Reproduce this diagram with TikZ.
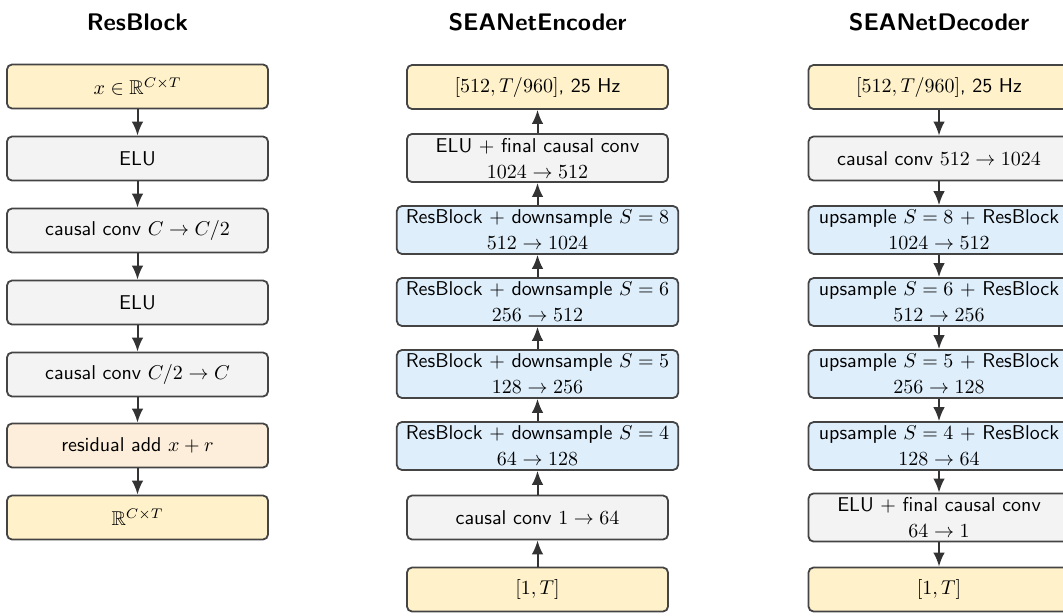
\documentclass[tikz,border=0pt]{standalone}
\usepackage{amsmath,amssymb}
\usetikzlibrary{arrows.meta}

\definecolor{ioyellow}{HTML}{FFF2CA}
\definecolor{opgray}{HTML}{F3F3F3}
\definecolor{rbblue}{HTML}{DEEEFB}
\definecolor{addorange}{HTML}{FDEEDB}
\definecolor{edge}{HTML}{444444}
\definecolor{arrowc}{HTML}{333333}

\begin{document}
\begin{tikzpicture}[
  x=0.5pt, y=-0.5pt,
  font=\sffamily\fontsize{10}{13}\selectfont,
  blk/.style={draw=edge, line width=0.9pt, rounded corners=2.5pt,
    minimum width=130.5pt, minimum height=22pt,
    inner xsep=4.5pt, inner ysep=2pt, align=center},
  io/.style={blk, fill=ioyellow},
  op/.style={blk, fill=opgray},
  rb/.style={blk, fill=rbblue},
  addop/.style={blk, fill=addorange},
  flow/.style={draw=arrowc, line width=1pt, -{Latex[length=7pt,width=5.8pt]}},
  ttl/.style={font=\sffamily\bfseries\fontsize{12}{14}\selectfont}
]
\useasboundingbox (0,0) rectangle (1063,615);
\clip (0,0) rectangle (1063,615);

% column titles
\node[ttl] (t1) at (137.5,22) {ResBlock};
\node[ttl] (t2) at (537.5,22) {SEANetEncoder};
\node[ttl] (t3) at (939,22) {SEANetDecoder};

% ResBlock
\node[io]    (r1) at (137.5,86.5)  {$x\in\mathbb{R}^{C\times T}$};
\node[op]    (r2) at (137.5,158.5) {ELU};
\node[op]    (r3) at (137.5,230.5) {causal conv $C\to C/2$};
\node[op]    (r4) at (137.5,302.5) {ELU};
\node[op]    (r5) at (137.5,374.5) {causal conv $C/2\to C$};
\node[addop] (r6) at (137.5,445.5) {residual add $x+r$};
\node[io]    (r7) at (137.5,517.5) {$\mathbb{R}^{C\times T}$};
\foreach \a/\b in {r1/r2,r2/r3,r3/r4,r4/r5,r5/r6,r6/r7}
  \draw[flow] (\a.south) -- (\b.north);

% SEANet encoder (bottom to top)
\node[io] (e1) at (537.5,87)    {$[512,T/960]$, 25 Hz};
\node[op] (e2) at (537.5,158)   {ELU $+$ final causal conv\\$1024\to512$};
\node[rb] (e3) at (537.5,230)   {ResBlock $+$ downsample $S=8$\\$512\to1024$};
\node[rb] (e4) at (537.5,302)   {ResBlock $+$ downsample $S=6$\\$256\to512$};
\node[rb] (e5) at (537.5,374)   {ResBlock $+$ downsample $S=5$\\$128\to256$};
\node[rb] (e6) at (537.5,446)   {ResBlock $+$ downsample $S=4$\\$64\to128$};
\node[op] (e7) at (537.5,517.5) {causal conv $1\to64$};
\node[io] (e8) at (537.5,589.5) {$[1,T]$};
\foreach \a/\b in {e8/e7,e7/e6,e6/e5,e5/e4,e4/e3,e3/e2,e2/e1}
  \draw[flow] (\a.north) -- (\b.south);

% SEANet decoder (top to bottom)
\node[io] (d1) at (939,87)    {$[512,T/960]$, 25 Hz};
\node[op] (d2) at (939,158.5) {causal conv $512\to1024$};
\node[rb] (d3) at (939,230)   {upsample $S=8$ $+$ ResBlock\\$1024\to512$};
\node[rb] (d4) at (939,302)   {upsample $S=6$ $+$ ResBlock\\$512\to256$};
\node[rb] (d5) at (939,374)   {upsample $S=5$ $+$ ResBlock\\$256\to128$};
\node[rb] (d6) at (939,446)   {upsample $S=4$ $+$ ResBlock\\$128\to64$};
\node[op] (d7) at (939,517.5) {ELU $+$ final causal conv\\$64\to1$};
\node[io] (d8) at (939,589.5) {$[1,T]$};
\foreach \a/\b in {d1/d2,d2/d3,d3/d4,d4/d5,d5/d6,d6/d7,d7/d8}
  \draw[flow] (\a.south) -- (\b.north);
\end{tikzpicture}
\end{document}
